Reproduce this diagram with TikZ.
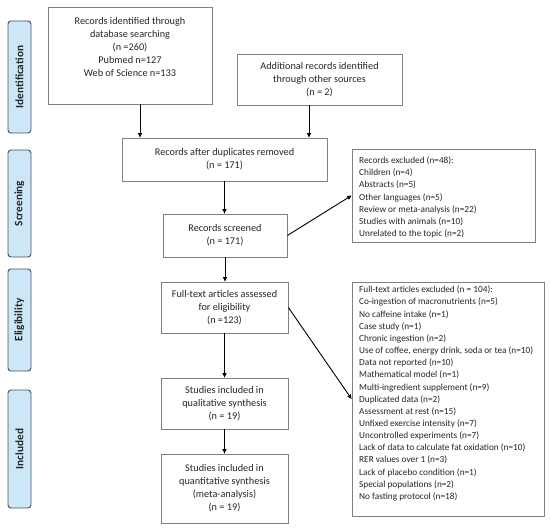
\documentclass[tikz,border=0pt]{standalone}
\usepackage{fontspec}
\setmainfont{Carlito}
\usetikzlibrary{arrows.meta}
\definecolor{sidefill}{RGB}{204,232,248}
\definecolor{sidedraw}{RGB}{70,80,90}
\definecolor{boxdraw}{RGB}{128,128,128}
\begin{document}
\begin{tikzpicture}[x=1bp,y=-1bp,
  box/.style={draw=boxdraw, line width=0.8bp, rectangle, inner sep=0pt},
  maintext/.style={align=center, inner sep=0pt, font=\fontsize{10.3}{13}\selectfont, text=black!85},
  listtext/.style={align=left, inner sep=0pt, font=\fontsize{9.3}{12.2}\selectfont, anchor=west, text=black!85},
  side/.style={draw=sidedraw, fill=sidefill, line width=0.9bp, rounded corners=3bp, minimum width=23bp, inner sep=0pt},
  sidetext/.style={rotate=90, font=\fontsize{11.3}{13}\selectfont\bfseries, text=black!85},
  arr/.style={-{Triangle[length=4.5bp,width=4bp]}, line width=0.9bp, black}
]
\useasboundingbox (0,0) rectangle (550,528);
% side labels
\node[side, minimum height=112bp] (sid) at (19.5,77) {};
\node[sidetext] (sidt) at (sid.center) {Identification};
\node[side, minimum height=107bp] (sscr) at (19.5,203.5) {};
\node[sidetext] (sscrt) at (sscr.center) {Screening};
\node[side, minimum height=102bp] (selig) at (19.5,320) {};
\node[sidetext] (seligt) at (selig.center) {Eligibility};
\node[side, minimum height=118bp] (sinc) at (19.5,449) {};
\node[sidetext] (sinct) at (sinc.center) {Included};
% boxes
\node[box, minimum width=164bp, minimum height=97bp] (b1) at (130,55.5) {};
\node[maintext] (t1) at (130,47) {Records identified through\\database searching\\(n =260)\\Pubmed n=127\\Web of Science n=133};
\node[box, minimum width=165bp, minimum height=51bp, maintext] (b2) at (319.5,79.5) {Additional records identified\\through other sources\\(n = 2)};
\node[box, minimum width=205bp, minimum height=43bp, maintext] (b3) at (224.5,159.5) {Records after duplicates removed\\(n = 171)};
\node[box, minimum width=124bp, minimum height=43bp, maintext] (b4) at (225,235.5) {Records screened\\(n = 171)};
\node[box, minimum width=183bp, minimum height=93bp] (ex1) at (443.5,195.5) {};
\node[listtext] (ex1t) at (359,197.5) {Records excluded (n=48):\\Children (n=4)\\Abstracts (n=5)\\Other languages (n=5)\\Review or meta-analysis (n=22)\\Studies with animals (n=10)\\Unrelated to the topic (n=2)};
\node[box, minimum width=127bp, minimum height=51bp, maintext] (b5) at (224.5,307.5) {Full-text articles assessed\\for eligibility\\(n =123)};
\node[box, minimum width=127bp, minimum height=51bp, maintext] (b6) at (224.5,403.5) {Studies included in\\qualitative synthesis\\(n = 19)};
\node[box, minimum width=127bp, minimum height=69bp, maintext] (b7) at (224.5,488.5) {Studies included in\\quantitative synthesis\\(meta-analysis)\\(n = 19)};
\node[box, minimum width=192bp, minimum height=234bp] (ex2) at (448,399) {};
\node[listtext] (ex2t) at (359,393.5) {Full-text articles excluded (n = 104):\\Co-ingestion of macronutrients (n=5)\\No caffeine intake (n=1)\\Case study (n=1)\\Chronic ingestion (n=2)\\Use of coffee, energy drink, soda or tea (n=10)\\Data not reported (n=10)\\Mathematical model (n=1)\\Multi-ingredient supplement (n=9)\\Duplicated data (n=2)\\Assessment at rest (n=15)\\Unfixed exercise intensity (n=7)\\Uncontrolled experiments (n=7)\\Lack of data to calculate fat oxidation (n=10)\\RER values over 1 (n=3)\\Lack of placebo condition (n=1)\\Special populations (n=2)\\No fasting protocol (n=18)};
% arrows
\draw[arr] ([xshift=10bp]b1.south) -- ([xshift=10bp]b1.south |- b3.north);
\draw[arr] ([xshift=-10.5bp]b2.south) -- ([xshift=-10.5bp]b2.south |- b3.north);
\draw[arr] (b3.south) -- (b3.south |- b4.north);
\draw[arr] (b4.south) -- (b4.south |- b5.north);
\draw[arr] (b5.south) -- (b6.north);
\draw[arr] (b6.south) -- (b7.north);
\draw[arr] (b4.east) -- (ex1.west);
\draw[arr] (b5.east) -- (ex2.west);
\end{tikzpicture}
\end{document}
